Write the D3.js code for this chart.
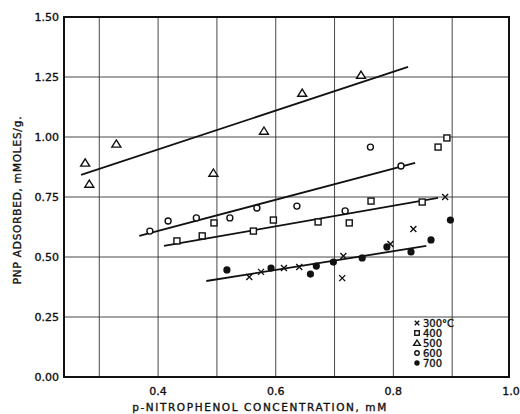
<!DOCTYPE html>
<html>
<head>
<meta charset="utf-8">
<script src="https://cdn.jsdelivr.net/npm/d3@7"></script>
<style>
body { margin:0; background:#fff; }
svg text { font-family:"DejaVu Sans", sans-serif; fill:#111; stroke:#111; stroke-width:0.35; }
</style>
</head>
<body>
<svg id="chart" width="520" height="414"></svg>
<script>
//
// Data
//
var xTicks = [0.4, 0.6, 0.8, 1.0];
var yTicks = [0.00, 0.25, 0.50, 0.75, 1.00, 1.25, 1.50];
var xGrid = [0.3, 0.4, 0.5, 0.6, 0.7, 0.8, 0.9];

// 300 C  (crosses)
var t300 = [[0.555,0.417],[0.575,0.438],[0.614,0.454],[0.640,0.458],[0.713,0.412],[0.715,0.504],[0.795,0.554],[0.834,0.617],[0.888,0.750]];
// 400 C  (squares)
var t400 = [[0.432,0.567],[0.475,0.588],[0.495,0.642],[0.562,0.608],[0.596,0.654],[0.672,0.646],[0.725,0.642],[0.762,0.733],[0.849,0.729],[0.876,0.958],[0.891,0.996]];
// 500 C  (triangles)
var t500 = [[0.276,0.892],[0.283,0.804],[0.329,0.971],[0.494,0.850],[0.580,1.025],[0.645,1.183],[0.745,1.258]];
// 600 C  (open circles)
var t600 = [[0.386,0.608],[0.417,0.650],[0.465,0.663],[0.522,0.663],[0.568,0.704],[0.636,0.712],[0.718,0.692],[0.761,0.958],[0.813,0.879]];
// 700 C  (filled dots)
var t700 = [[0.517,0.446],[0.592,0.454],[0.659,0.429],[0.669,0.462],[0.698,0.479],[0.747,0.496],[0.789,0.542],[0.830,0.521],[0.864,0.571],[0.897,0.654]];

// drawn fit lines, end points
var fit500 = [[0.269,0.842],[0.825,1.292]];
var fit600 = [[0.368,0.588],[0.837,0.892]];
var fit400 = [[0.410,0.546],[0.876,0.746]];
var fitLow = [[0.482,0.400],[0.856,0.546]];

var legendLabels = ["300\u00B0C", "400", "500", "600", "700"];
var legendShapes = ["cross", "square", "triangle", "circle", "dot"];

//
// Setup
//
var svg = d3.select("#chart");
var x = d3.scaleLinear().domain([0.24, 1.0]).range([64, 511]);
var y = d3.scaleLinear().domain([0, 1.5]).range([377, 17]);
var x0 = 64, x1 = 509, y0 = 377, y1 = 17;

// grid
svg.append("g").selectAll("line.vg").data(xGrid).enter().append("line")
	.attr("x1", function(d){ return x(d); }).attr("x2", function(d){ return x(d); })
	.attr("y1", y1).attr("y2", y0)
	.attr("stroke", "#333").attr("stroke-width", 0.9);
svg.append("g").selectAll("line.hg").data(yTicks.slice(1, -1)).enter().append("line")
	.attr("x1", x0).attr("x2", x1)
	.attr("y1", function(d){ return y(d); }).attr("y2", function(d){ return y(d); })
	.attr("stroke", "#333").attr("stroke-width", 0.9);

// frame
svg.append("rect").attr("x", x0).attr("y", y1).attr("width", x1 - x0).attr("height", y0 - y1)
	.attr("fill", "none").attr("stroke", "#111").attr("stroke-width", 2);

// tick labels
svg.append("g").selectAll("text").data(yTicks).enter().append("text")
	.attr("x", 59).attr("y", function(d){ return y(d) + 4; })
	.attr("text-anchor", "end").attr("font-size", 11)
	.text(function(d){ return d3.format(".2f")(d); });
svg.append("g").selectAll("text").data(xTicks).enter().append("text")
	.attr("x", function(d){ return x(d); }).attr("y", 395)
	.attr("text-anchor", "middle").attr("font-size", 11)
	.text(function(d){ return d3.format(".1f")(d); });

// axis titles
svg.append("text").attr("transform", "translate(21,200) rotate(-90)")
	.attr("text-anchor", "middle").attr("font-size", 10.5).attr("letter-spacing", 0.8)
	.text("PNP ADSORBED, mMOLES/g.");
svg.append("text").attr("x", 260).attr("y", 411)
	.attr("text-anchor", "middle").attr("font-size", 10.5).attr("letter-spacing", 1.6)
	.text("p-NITROPHENOL CONCENTRATION, mM");

// fit lines
var line = d3.line().x(function(d){ return x(d[0]); }).y(function(d){ return y(d[1]); });
[fit500, fit600, fit400, fitLow].forEach(function(f)
{
	svg.append("path").attr("d", line(f)).attr("fill", "none")
		.attr("stroke", "#111").attr("stroke-width", 1.8);
});

//
// Markers
//
function drawMarker(g, shape, cx, cy, s)
{
	s = s || 1;
	if (shape == "cross")
	{
		g.append("path").attr("d", "M" + (cx-3*s) + "," + (cy-3*s) + "L" + (cx+3*s) + "," + (cy+3*s) +
			"M" + (cx+3*s) + "," + (cy-3*s) + "L" + (cx-3*s) + "," + (cy+3*s))
			.attr("stroke", "#111").attr("stroke-width", 1.4);
	}
	else if (shape == "square")
	{
		g.append("rect").attr("x", cx-3*s).attr("y", cy-3*s).attr("width", 6*s).attr("height", 6*s)
			.attr("fill", "#fff").attr("stroke", "#111").attr("stroke-width", 1.4);
	}
	else if (shape == "triangle")
	{
		g.append("path").attr("d", "M" + cx + "," + (cy-4*s) + "L" + (cx+4.5*s) + "," + (cy+3.2*s) + "L" + (cx-4.5*s) + "," + (cy+3.2*s) + "Z")
			.attr("fill", "#fff").attr("stroke", "#111").attr("stroke-width", 1.4);
	}
	else if (shape == "circle")
	{
		g.append("circle").attr("cx", cx).attr("cy", cy).attr("r", 3*s)
			.attr("fill", "#fff").attr("stroke", "#111").attr("stroke-width", 1.4);
	}
	else
	{
		g.append("circle").attr("cx", cx).attr("cy", cy).attr("r", 3.6*s).attr("fill", "#111");
	}
}
function drawSeries(data, shape)
{
	var g = svg.append("g");
	data.forEach(function(d){ drawMarker(g, shape, x(d[0]), y(d[1])); });
}
drawSeries(t500, "triangle");
drawSeries(t600, "circle");
drawSeries(t400, "square");
drawSeries(t300, "cross");
drawSeries(t700, "dot");

// legend
var lg = svg.append("g");
legendLabels.forEach(function(lab, i)
{
	var ly = 323 + i * 10;
	drawMarker(lg, legendShapes[i], 417, ly, 0.75);
	lg.append("text").attr("x", 423).attr("y", ly + 4).attr("font-size", 10).text(lab);
});
</script>
</body>
</html>
